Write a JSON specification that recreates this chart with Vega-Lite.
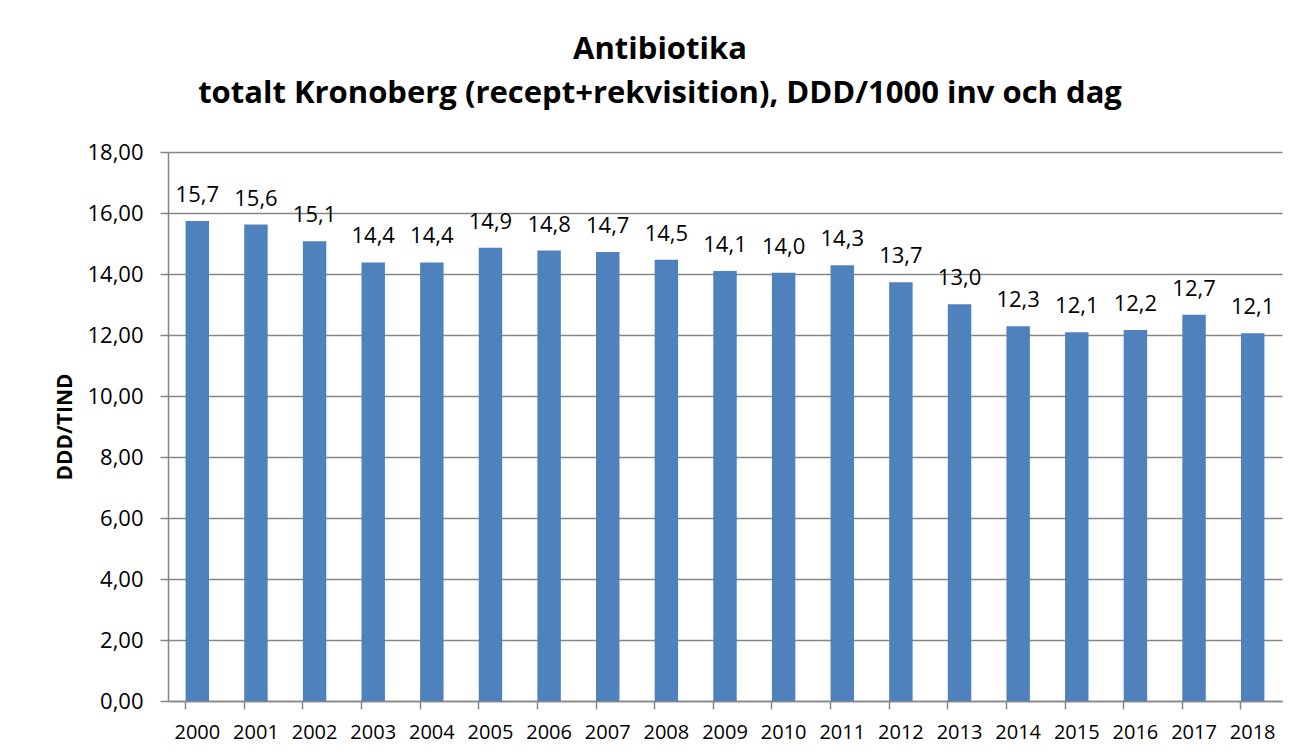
{
  "$schema": "https://vega.github.io/schema/vega-lite/v6.json",
  "autosize": {"type": "none"},
  "width": 1114,
  "height": 549,
  "padding": {"left": 168, "top": 152, "right": 16, "bottom": 54},
  "background": "white",
  "config": {
    "locale": {"number": {"decimal": ",", "thousands": " ", "grouping": [3], "currency": ["", " kr"]}},
    "view": {"stroke": null},
    "font": "Open Sans"
  },
  "title": {
    "text": ["Antibiotika", "totalt Kronoberg (recept+rekvisition), DDD/1000 inv och dag"],
    "font": "Open Sans",
    "fontSize": 31,
    "fontWeight": "bold",
    "color": "black",
    "lineHeight": 44,
    "anchor": "middle",
    "dx": -65,
    "offset": 31
  },
  "data": {
    "values": [
      {"year": "2000", "value": 15.74},
      {"year": "2001", "value": 15.62},
      {"year": "2002", "value": 15.07},
      {"year": "2003", "value": 14.38},
      {"year": "2004", "value": 14.38},
      {"year": "2005", "value": 14.86},
      {"year": "2006", "value": 14.77},
      {"year": "2007", "value": 14.72},
      {"year": "2008", "value": 14.47},
      {"year": "2009", "value": 14.1},
      {"year": "2010", "value": 14.04},
      {"year": "2011", "value": 14.29},
      {"year": "2012", "value": 13.73},
      {"year": "2013", "value": 13.01},
      {"year": "2014", "value": 12.29},
      {"year": "2015", "value": 12.09},
      {"year": "2016", "value": 12.16},
      {"year": "2017", "value": 12.66},
      {"year": "2018", "value": 12.06}
    ]
  },
  "encoding": {
    "x": {
      "field": "year",
      "type": "ordinal",
      "scale": {"paddingInner": 0.6, "paddingOuter": 0.3},
      "axis": {
        "title": null,
        "labelAngle": 0,
        "labelFont": "Open Sans",
        "labelFontSize": 20,
        "labelColor": "black",
        "labelPadding": 13,
        "bandPosition": 0,
        "tickColor": "#868686",
        "tickSize": 8,
        "tickWidth": 1.5,
        "domainColor": "#868686",
        "domainWidth": 1.5,
        "grid": false
      }
    },
    "y": {
      "field": "value",
      "type": "quantitative",
      "scale": {"domain": [0, 18], "nice": false},
      "axis": {
        "title": "DDD/TIND",
        "titleFont": "Open Sans",
        "titleFontSize": 21,
        "titleFontWeight": "bold",
        "titleColor": "black",
        "titlePadding": 11,
        "values": [0, 2, 4, 6, 8, 10, 12, 14, 16, 18],
        "format": ".2f",
        "labelFont": "Open Sans",
        "labelFontSize": 22,
        "labelColor": "black",
        "labelPadding": 17,
        "tickColor": "#868686",
        "tickSize": 8,
        "tickWidth": 1.5,
        "domainColor": "#868686",
        "domainWidth": 1.5,
        "grid": true,
        "gridColor": "#868686",
        "gridWidth": 1.5
      }
    }
  },
  "layer": [
    {"mark": {"type": "bar", "color": "#4f81bd"}},
    {
      "mark": {"type": "text", "baseline": "alphabetic", "dy": -19, "font": "Open Sans", "fontSize": 22, "color": "black"},
      "encoding": {"text": {"field": "value", "type": "quantitative", "format": ".1f"}}
    }
  ]
}
